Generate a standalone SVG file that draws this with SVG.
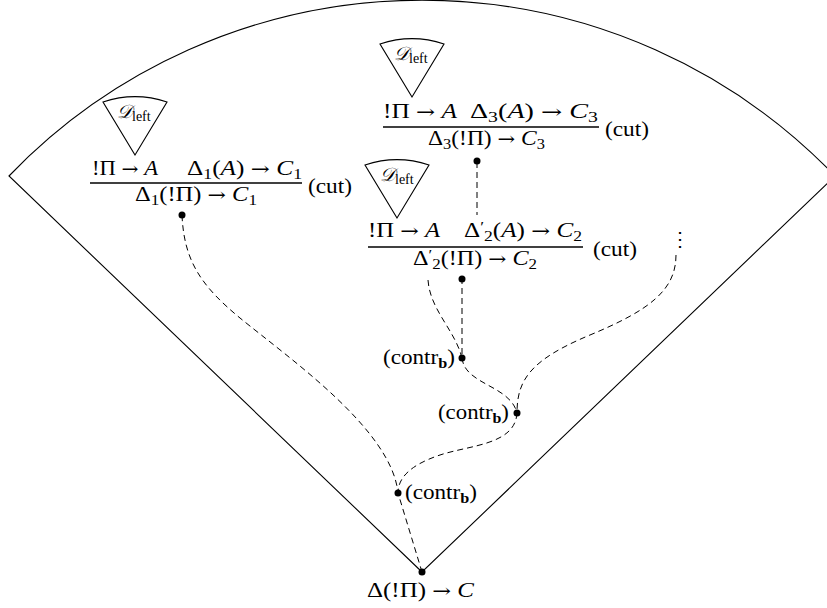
<svg xmlns="http://www.w3.org/2000/svg" width="827" height="608" viewBox="0 0 827 608">
<style>
.t{font-family:"Liberation Serif","DejaVu Serif",serif;font-size:20px;fill:#000}
.i{font-style:italic}
.s{font-size:14px}
.ar{font-family:"DejaVu Serif",serif;font-size:18px}
.sc{font-family:"DejaVu Serif","Liberation Serif",serif;font-style:italic;font-size:19px}
.bf{font-weight:bold}
.l{fill:none;stroke:#000;stroke-width:1.1}
.bar{stroke:#000;stroke-width:1.3}
.d{fill:none;stroke:#000;stroke-width:1;stroke-dasharray:6 4}
.dot{fill:#000}
</style>
<defs>
<path id="cone" class="l" d="M0,0 L-32,-53 A100,100 0 0 1 32,-53 Z"/>
</defs>

<g id="outer-cone">
<path class="l" d="M422,572 L9,176 A573,573 0 0 1 835,176 Z"/>
</g>

<g id="deriv1">
<use href="#cone" x="135" y="155"/>
<text class="t" x="117" y="118"><tspan class="sc">𝒟</tspan><tspan class="s" dy="3">left</tspan></text>
<text class="t" x="92" y="175" textLength="66" lengthAdjust="spacingAndGlyphs">!Π <tspan class="ar">→</tspan> <tspan class="i">A</tspan></text>
<text class="t" x="187" y="175" textLength="115" lengthAdjust="spacingAndGlyphs">Δ<tspan class="s" dy="4">1</tspan><tspan dy="-4">(</tspan><tspan class="i">A</tspan>) <tspan class="ar">→</tspan> <tspan class="i">C</tspan><tspan class="s" dy="4">1</tspan></text>
<line class="bar" x1="90" y1="183" x2="302" y2="183"/>
<text class="t" x="135" y="201" textLength="122" lengthAdjust="spacingAndGlyphs">Δ<tspan class="s" dy="4">1</tspan><tspan dy="-4">(!Π) </tspan><tspan class="ar">→</tspan> <tspan class="i">C</tspan><tspan class="s" dy="4">1</tspan></text>
<text class="t" x="308" y="193" textLength="44" lengthAdjust="spacingAndGlyphs">(cut)</text>
</g>

<g id="deriv3">
<use href="#cone" x="412" y="97"/>
<text class="t" x="394" y="60"><tspan class="sc">𝒟</tspan><tspan class="s" dy="3">left</tspan></text>
<text class="t" x="383" y="118" textLength="74" lengthAdjust="spacingAndGlyphs">!Π <tspan class="ar">→</tspan> <tspan class="i">A</tspan></text>
<text class="t" x="470" y="118" textLength="128" lengthAdjust="spacingAndGlyphs">Δ<tspan class="s" dy="4">3</tspan><tspan dy="-4">(</tspan><tspan class="i">A</tspan>) <tspan class="ar">→</tspan> <tspan class="i">C</tspan><tspan class="s" dy="4">3</tspan></text>
<line class="bar" x1="383" y1="127" x2="599" y2="127"/>
<text class="t" x="428" y="145" textLength="117" lengthAdjust="spacingAndGlyphs">Δ<tspan class="s" dy="4">3</tspan><tspan dy="-4">(!Π) </tspan><tspan class="ar">→</tspan> <tspan class="i">C</tspan><tspan class="s" dy="4">3</tspan></text>
<text class="t" x="605" y="136" textLength="44" lengthAdjust="spacingAndGlyphs">(cut)</text>
</g>

<g id="deriv2">
<use href="#cone" x="397" y="218"/>
<text class="t" x="380" y="181"><tspan class="sc">𝒟</tspan><tspan class="s" dy="3">left</tspan></text>
<text class="t" x="368" y="237" textLength="72" lengthAdjust="spacingAndGlyphs">!Π <tspan class="ar">→</tspan> <tspan class="i">A</tspan></text>
<text class="t" x="464" y="237" textLength="118" lengthAdjust="spacingAndGlyphs">Δ<tspan class="s" dy="-5">′</tspan><tspan class="s" dy="9">2</tspan><tspan dy="-4">(</tspan><tspan class="i">A</tspan>) <tspan class="ar">→</tspan> <tspan class="i">C</tspan><tspan class="s" dy="4">2</tspan></text>
<line class="bar" x1="368" y1="247" x2="583" y2="247"/>
<text class="t" x="413" y="265" textLength="124" lengthAdjust="spacingAndGlyphs">Δ<tspan class="s" dy="-5">′</tspan><tspan class="s" dy="9">2</tspan><tspan dy="-4">(!Π) </tspan><tspan class="ar">→</tspan> <tspan class="i">C</tspan><tspan class="s" dy="4">2</tspan></text>
<text class="t" x="593" y="256" textLength="44" lengthAdjust="spacingAndGlyphs">(cut)</text>
</g>

<g id="vdots">
<text class="t" x="670" y="246" style="font-family:'DejaVu Serif',serif">⋮</text>
</g>

<g id="connectors">
<path class="d" d="M477,162 L477,215"/>
<path class="d" d="M182,215 C184,260 200,285 240,318 C290,359 392,430 398,493 L422,572"/>
<path class="d" d="M462,278 L462,358"/>
<path class="d" d="M428,280 C430,310 455,330 462,358"/>
<path class="d" d="M462,358 C465,385 510,385 517,413"/>
<path class="d" d="M676,255 C676,290 650,310 590,335 C530,360 517,380 517,413"/>
<path class="d" d="M517,413 C515,445 470,445 440,455 C410,465 398,478 398,493"/>
</g>

<g id="dots">
<circle class="dot" cx="477" cy="161" r="3.5"/>
<circle class="dot" cx="182" cy="215" r="3.5"/>
<circle class="dot" cx="462" cy="279" r="3.5"/>
</g>

<g id="contr1">
<circle class="dot" cx="462" cy="358" r="3.5"/>
<text class="t" x="383" y="364" textLength="72" lengthAdjust="spacingAndGlyphs">(contr<tspan class="s bf" dy="4">b</tspan><tspan dy="-4">)</tspan></text>
</g>
<g id="contr2">
<circle class="dot" cx="517" cy="413" r="3.5"/>
<text class="t" x="438" y="419" textLength="71" lengthAdjust="spacingAndGlyphs">(contr<tspan class="s bf" dy="4">b</tspan><tspan dy="-4">)</tspan></text>
</g>
<g id="contr3">
<circle class="dot" cx="398" cy="493" r="3.5"/>
<text class="t" x="405" y="499" textLength="72" lengthAdjust="spacingAndGlyphs">(contr<tspan class="s bf" dy="4">b</tspan><tspan dy="-4">)</tspan></text>
</g>

<g id="root">
<circle class="dot" cx="422" cy="572" r="3.5"/>
<text class="t" x="367" y="597" textLength="107" lengthAdjust="spacingAndGlyphs">Δ(!Π) <tspan class="ar">→</tspan> <tspan class="i">C</tspan></text>
</g>
</svg>
